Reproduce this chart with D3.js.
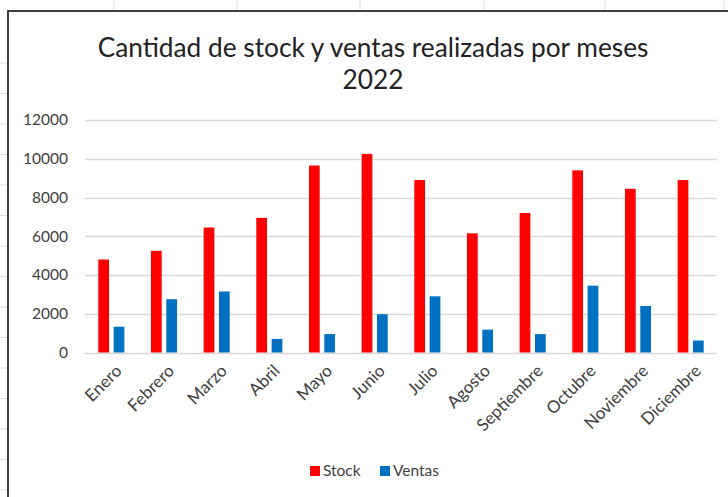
<!DOCTYPE html>
<html>
<head>
<meta charset="utf-8">
<script src="https://cdn.jsdelivr.net/npm/d3@7"></script>
<style>
  body { margin: 0; background: #fff; }
  text { font-family: Lato, "Open Sans", sans-serif; }
</style>
</head>
<body>
<script>
const months = ['Enero', 'Febrero', 'Marzo', 'Abril', 'Mayo', 'Junio', 'Julio',
  'Agosto', 'Septiembre', 'Octubre', 'Noviembre', 'Diciembre'];
const stock = [4800, 5250, 6450, 6950, 9650, 10250, 8900, 6150, 7200, 9400, 8450, 8900];
const ventas = [1330, 2750, 3150, 700, 950, 1980, 2900, 1180, 950, 3450, 2400, 620];
const seriesNames = ['Stock', 'Ventas'];
const yTicks = [0, 2000, 4000, 6000, 8000, 10000, 12000];
const titleLines = ['Cantidad de stock y ventas realizadas por meses', '2022'];

const width = 728;
const height = 497;
const colors = { Stock: '#ff0000', Ventas: '#0070c0' };

const svg = d3.select('body').append('svg')
  .attr('width', width)
  .attr('height', height);

// faint spreadsheet cell lines outside the chart frame
svg.selectAll('.colTick')
  .data([114, 237, 360, 484, 605, 724])
  .join('line')
  .attr('x1', d => d).attr('x2', d => d)
  .attr('y1', 0).attr('y2', 10)
  .attr('stroke', '#dcdcdc');
svg.selectAll('.rowTick')
  .data(d3.range(15).map(i => 63 + i * 30.5))
  .join('line')
  .attr('x1', 0).attr('x2', 7)
  .attr('y1', d => d).attr('y2', d => d)
  .attr('stroke', '#dcdcdc');

// chart frame
svg.append('path')
  .attr('d', `M8,${height} V11 H${width}`)
  .attr('fill', 'none')
  .attr('stroke', '#3f3f3f')
  .attr('stroke-width', 2);

// title
const title = svg.append('g');
title.selectAll('text')
  .data(titleLines)
  .join('text')
  .attr('x', 373)
  .attr('y', (d, i) => 57 + i * 32)
  .attr('text-anchor', 'middle')
  .attr('fill', '#222')
  .style('font-size', '25px')
  .text(d => d);
// fit first line to the reference width
const t0 = title.select('text').node();
const fs = 25 * 551 / t0.getComputedTextLength();
title.selectAll('text').style('font-size', fs + 'px');

const plot = { left: 85, right: 717, top: 120, bottom: 352.5 };

const y = d3.scaleLinear()
  .domain([0, 12000])
  .range([plot.bottom, plot.top]);

const x0 = d3.scaleBand()
  .domain(months)
  .range([plot.left, plot.right]);

const x1 = d3.scaleBand()
  .domain(seriesNames)
  .range([13.3, x0.bandwidth() - 13.3])
  .paddingInner(0.3);

// gridlines
svg.append('g')
  .selectAll('line')
  .data(yTicks)
  .join('line')
  .attr('x1', plot.left)
  .attr('x2', plot.right)
  .attr('y1', d => Math.round(y(d)) + 0.5)
  .attr('y2', d => Math.round(y(d)) + 0.5)
  .attr('stroke', '#d9d9d9')
  .attr('stroke-width', 1.3);

// y labels
svg.append('g')
  .selectAll('text')
  .data(yTicks)
  .join('text')
  .attr('x', 68)
  .attr('y', d => y(d))
  .attr('dy', '0.35em')
  .attr('text-anchor', 'end')
  .attr('fill', '#404040')
  .style('font-size', '15.5px')
  .text(d => d);

// bars
const rows = months.map((m, i) => ({ month: m, Stock: stock[i], Ventas: ventas[i] }));

const groups = svg.append('g')
  .selectAll('g')
  .data(rows)
  .join('g')
  .attr('transform', d => `translate(${x0(d.month)},0)`);

groups.selectAll('rect')
  .data(d => seriesNames.map(k => ({ key: k, value: d[k] })))
  .join('rect')
  .attr('x', d => x1(d.key))
  .attr('width', x1.bandwidth())
  .attr('y', d => y(d.value))
  .attr('height', d => y(0) - y(d.value))
  .attr('fill', d => colors[d.key]);

// month labels
svg.append('g')
  .selectAll('text')
  .data(months)
  .join('text')
  .attr('transform', d => `translate(${x0(d) + x0.bandwidth() / 2 + 3},${plot.bottom + 11}) rotate(-45)`)
  .attr('text-anchor', 'end')
  .attr('dy', '0.7em')
  .attr('fill', '#404040')
  .style('font-size', '17px')
  .text(d => d);

// legend
const legend = svg.append('g');
const legendX = { Stock: 310, Ventas: 380 };
legend.selectAll('rect')
  .data(seriesNames)
  .join('rect')
  .attr('x', d => legendX[d])
  .attr('y', 466)
  .attr('width', 10)
  .attr('height', 10)
  .attr('fill', d => colors[d]);
legend.selectAll('text')
  .data(seriesNames)
  .join('text')
  .attr('x', d => legendX[d] + 13)
  .attr('y', 476)
  .attr('fill', '#404040')
  .style('font-size', '15.5px')
  .text(d => d);
</script>
</body>
</html>
